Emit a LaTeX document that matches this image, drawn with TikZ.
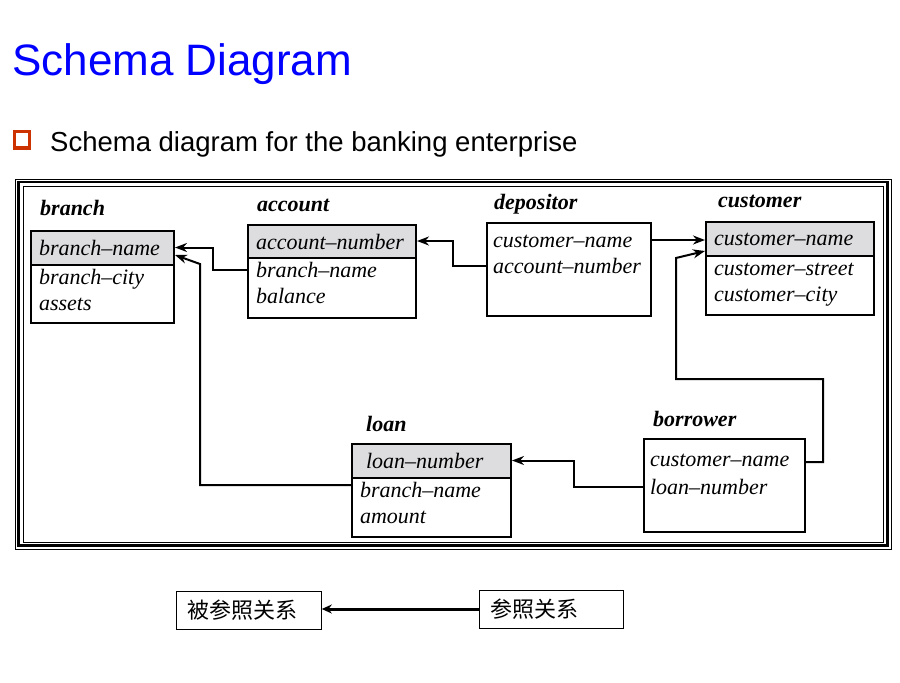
\documentclass[tikz,border=0pt]{standalone}
\usepackage{fontspec}
\newfontfamily\slidefont{Liberation Sans}
\newfontfamily\schemafont[Ligatures=TeX]{Liberation Serif}
\newfontfamily\cjkfont{Noto Sans CJK SC}
\usetikzlibrary{calc,shapes.multipart,arrows.meta}
\definecolor{titleblue}{RGB}{0,0,255}
\definecolor{bulletred}{RGB}{204,51,0}
\definecolor{keygray}{RGB}{221,221,224}
\exhyphenpenalty=10000

\begin{document}
\begin{tikzpicture}[x=1pt,y=-1pt,
                    relation/.style={draw,line width=2pt,rectangle split,rectangle split parts=2,
                        rectangle split part fill={keygray,white},inner xsep=8pt,inner ysep=0pt,
                        font={\fontsize{22}{26}\selectfont\schemafont\itshape},anchor=north west},
                    linkrel/.style={draw,line width=2pt,inner xsep=6pt,inner ysep=0pt,
                        font={\fontsize{22}{26}\selectfont\schemafont\itshape},anchor=north west},
                    relname/.style={font={\fontsize{22}{24}\selectfont\schemafont\bfseries\itshape},anchor=base west,inner sep=0pt},
                    fkey/.style={line width=2pt,-{Stealth[length=12pt,width=9pt]}},
                    legendbox/.style={draw,line width=0.8pt,minimum height=38pt,inner xsep=11pt,
                        font={\fontsize{22}{22}\selectfont\cjkfont},align=left,anchor=west}]
            \useasboundingbox (0,0) rectangle (900,683);

            \node[anchor=base west,inner sep=0pt,text=titleblue,font={\fontsize{44}{48}\selectfont\slidefont}] (title) at (12,75) {Schema Diagram};
            \fill[bulletred] (13,130) rectangle (31,150);
            \fill[white] (15.5,132.5) rectangle (27.5,145.5);
            \node[anchor=base west,inner sep=0pt,font={\fontsize{27.5}{30}\selectfont\slidefont}] (subtitle) at (50,151) {Schema diagram for the banking enterprise};

            % frame
            \draw[line width=1pt] (15,179) rectangle (891,549.5);
            \draw[line width=2.5pt] (18.5,182) rectangle (887.5,545.5);
            \draw[line width=1pt] (23,186) rectangle (883.5,542);

            \node[relation] (branch) at (30,230) {
                \parbox[c][32pt][c]{127pt}{branch--name}
                \nodepart{two}
                \parbox[c][56pt][t]{127pt}{\strut branch--city\\assets}
            };
            \node[relation] (account) at (247,224) {
                \parbox[c][31pt][c]{152pt}{account--number}
                \nodepart{two}
                \parbox[c][58pt][t]{152pt}{\strut branch--name\\balance}
            };
            \node[linkrel] (depositor) at (486,222) {
                \parbox[c][93pt][t]{152pt}{\rule{0pt}{24pt}customer--name\\account--number}
            };
            \node[relation] (customer) at (705,221) {
                \parbox[c][32pt][c]{152pt}{customer--name}
                \nodepart{two}
                \parbox[c][57pt][t]{152pt}{\strut customer--street\\customer--city}
            };
            \node[relation] (loan) at (351,443) {
                \parbox[c][32pt][c]{143pt}{\hspace*{6pt}loan--number}
                \nodepart{two}
                \parbox[c][57pt][t]{143pt}{\strut branch--name\\amount}
            };
            \node[linkrel] (borrower) at (643,438) {
                \parbox[c][93pt][t]{149pt}{\rule{0pt}{27pt}customer--name\\[2pt]loan--number}
            };

            \node[relname] (branchname) at ($(branch.north west)+(10,-15)$) {branch};
            \node[relname] (accountname) at ($(account.north west)+(10,-13)$) {account};
            \node[relname] (depositorname) at ($(depositor.north west)+(8,-13)$) {depositor};
            \node[relname] (customername) at ($(customer.north west)+(13,-14)$) {customer};
            \node[relname] (loanname) at ($(loan.north west)+(15,-12)$) {loan};
            \node[relname] (borrowername) at ($(borrower.north west)+(10,-12)$) {borrower};

            \draw[fkey] ($(account.text split west)+(0,12)$) -- ++(-34,0) |- ($(branch.north east)!0.5!(branch.text split east)$);
            \draw[fkey] ($(loan.text split west)+(0,7)$) -- ++(-151,0) -- ++(0,-221) -- ($(branch.text split east)+(0,-10)$);
            \draw[fkey] ($(depositor.north west)+(0,44)$) -- ++(-33,0) |- ($(account.north east)!0.5!(account.text split east)$);
            \draw[fkey] ($(depositor.north east)+(0,18)$) -- ($(customer.north west)+(0,19)$);
            \draw[fkey] ($(borrower.north east)+(0,24)$) -- ++(17,0) -- ++(0,-83) -- ++(-147,0) -- ++(0,-121) -- ($(customer.text split west)+(0,-5)$);
            \draw[fkey] ($(borrower.north west)+(0,49)$) -- ++(-69,0) |- ($(loan.north east)!0.5!(loan.text split east)$);

            \node[legendbox,text width=123pt] (referenced) at (176,610) {被参照关系};
            \node[legendbox,text width=122pt] (referencing) at (479,609) {参照关系};
            \draw[line width=3pt,-{Stealth[length=10pt,width=9pt]}] (referencing.west) -- (referencing.west -| referenced.east);
        \end{tikzpicture}
\end{document}
